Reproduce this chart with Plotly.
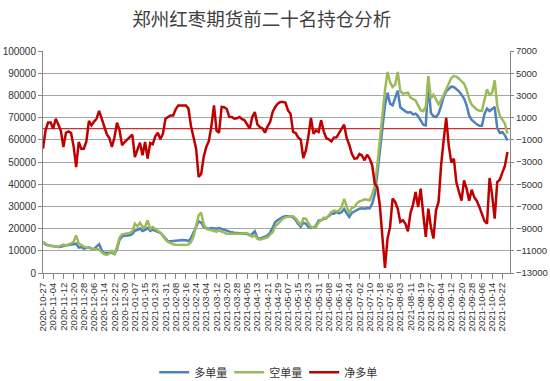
import pandas as pd
import plotly.graph_objects as go

# Chart data (2-day sampling)
start_date = "2020-10-27"
n_points = 183
dates = pd.date_range(start_date, periods=n_points, freq="2D")

long_pos = [  # 多单量
    13960, 12760, 12460, 12310, 12010, 11710, 11710, 11860, 12310, 12460,
    12610, 12910, 13210, 13210, 11410, 11710, 10960, 11110, 11560, 10960,
    10660, 12010, 12910, 10210, 9010, 9160, 9160, 9160, 8560, 10810,
    15020, 16370, 16820, 16970, 16970, 17570, 19070, 19370, 20120, 18920,
    19370, 20270, 18920, 19520, 19070, 18770, 18020, 16820, 15320, 14260,
    14260, 14410, 14560, 14710, 14710, 14860, 14710, 14410, 15770, 18170,
    21320, 23270, 22670, 20720, 20270, 19970, 20270, 20120, 19970, 20270,
    19820, 19520, 19070, 18470, 18320, 18170, 18020, 18020, 18020, 17870,
    17570, 16970, 17570, 18770, 15770, 15470, 15770, 16370, 16970, 18170,
    20420, 22970, 23870, 24620, 25220, 25520, 25670, 25520, 25070, 23870,
    22070, 20870, 22670, 22220, 20720, 20270, 20420, 21470, 23570, 23720,
    24320, 24770, 25520, 26730, 26730, 27480, 26880, 27330, 28830, 26880,
    25220, 27030, 27780, 28530, 28980, 29130, 28980, 29280, 29130, 31230,
    35430, 44590, 55250, 67420, 75530, 81230, 76280, 75530, 78830, 82130,
    74620, 73570, 72820, 72220, 72520, 71470, 71770, 70570, 68770, 66820,
    66520, 85730, 72070, 70570, 70270, 71770, 75230, 79280, 81830, 82880,
    83930, 83780, 82880, 81830, 80330, 78530, 75530, 70870, 68920, 67870,
    66970, 66370, 66370, 71620, 74020, 72970, 73720, 74770, 65320, 63060,
    63510, 62010, 59760,
]

short_pos = [  # 空单量
    13960, 13060, 12460, 12160, 12010, 11710, 11860, 12310, 12760, 12460,
    12760, 13360, 14110, 16970, 13360, 12460, 11860, 11560, 11260, 10960,
    10660, 10810, 10510, 9310, 8410, 8260, 8710, 9910, 8710, 11860,
    15910, 17420, 17720, 17720, 18020, 18770, 22220, 21020, 22670, 20870,
    20870, 23720, 19880, 20720, 19820, 19220, 18170, 16670, 15020, 13960,
    13360, 12910, 12760, 12760, 12460, 12460, 12610, 12910, 13960, 16520,
    20720, 25980, 27180, 21770, 19880, 19370, 19220, 18920, 18620, 19070,
    18770, 18170, 17720, 17720, 17570, 17420, 17420, 17720, 17720, 18020,
    17870, 17270, 16370, 16970, 15470, 15020, 15470, 15770, 16070, 17270,
    18320, 21020, 22220, 23270, 24470, 25070, 25370, 25520, 25520, 24620,
    23040, 21470, 24620, 24470, 22520, 20720, 20420, 20720, 22670, 23870,
    24920, 24470, 26120, 27480, 28080, 27780, 28080, 29730, 33330, 29730,
    26730, 29280, 29730, 31380, 32280, 32580, 33180, 33030, 32730, 35430,
    39190, 48500, 59760, 71470, 82280, 90540, 86030, 83780, 84830, 90540,
    82000, 80780, 81080, 81230, 78980, 78500, 77780, 75530, 73270, 72970,
    74770, 88740, 78530, 80330, 78080, 75980, 77780, 80330, 83480, 85880,
    87840, 88740, 88440, 87540, 86490, 85280, 82580, 78380, 75830, 74620,
    73570, 73120, 73120, 78080, 82730, 80330, 81080, 86790, 75330, 70820,
    68770, 67270, 62760,
]

net_long = [  # 净多单
    -1800, -150, 550, 550, 0, 900, 390, -200, -1650, -360,
    -240, -390, -1590, -3450, -1200, -1800, -1800, -1140, 700, 300,
    640, 900, 1600, 900, 370, -500, -840, -1650, -800, 540,
    -150, -1500, -1200, -960, -750, -540, -2550, -1860, -1260, -2400,
    -1200, -2700, -1290, -1400, -690, -360, -960, -450, 900, 1050,
    1200, 1200, 1750, 2100, 2100, 2100, 2100, 1810, 220, -780,
    -1800, -4350, -4050, -2490, -1650, -1110, 240, 2100, -180, -360,
    1960, 1930, 1780, 1060, 1060, 900, 940, 1060, 850, 760,
    310, 0, 1060, 1500, 390, 150, 30, -360, 220, 600,
    1500, 1960, 2260, 2410, 2410, 2350, 1650, 1350, -290, -390,
    -780, -990, -2640, -1950, -690, 970, -450, -150, -300, 760,
    -240, -840, -960, -1140, -800, -780, -390, 30, 360, -840,
    -1440, -2250, -2700, -2670, -2280, -2400, -2850, -2340, -2700, -3300,
    -4950, -5250, -6900, -9740, -12550, -9900, -8860, -6300, -6600, -7200,
    -8400, -8250, -8550, -9250, -7600, -6840, -5700, -7050, -5400, -7700,
    -9750, -7200, -8850, -9900, -7350, -6600, -3300, -1040, 970, -1500,
    -3050, -2700, -4850, -5700, -6480, -4650, -5400, -6480, -5500, -6180,
    -6510, -7050, -7650, -8310, -8550, -4440, -6000, -8100, -4800, -4600,
    -3960, -3350, -2100,
]

series_names = ["多单量", "空单量", "净多单"]
title_text = "郑州红枣期货前二十名持仓分析"

BLUE = "#4F81BD"
GREEN = "#9BBB59"
RED = "#C00000"
AXIS = "#868686"
GRID = "#a6a6a6"
TXT = "#333333"
NUM_FONT = "Liberation Sans, Arial, sans-serif"
CJK_FONT = "Noto Sans CJK SC, sans-serif"

fig = go.Figure()
fig.add_trace(go.Scatter(x=dates, y=long_pos, name=series_names[0], mode="lines",
                         line=dict(color=BLUE, width=2.5)))
fig.add_trace(go.Scatter(x=dates, y=short_pos, name=series_names[1], mode="lines",
                         line=dict(color=GREEN, width=2.5)))
fig.add_trace(go.Scatter(x=dates, y=net_long, name=series_names[2], mode="lines",
                         line=dict(color=RED, width=2.5), yaxis="y2"))

fig.add_shape(type="line", xref="paper", x0=0, x1=1, yref="y2", y0=0, y1=0,
              line=dict(color=RED, width=1), layer="below")

fig.update_layout(
    width=550, height=381,
    margin=dict(l=43, r=40, t=51, b=108, autoexpand=False),
    paper_bgcolor="white", plot_bgcolor="white",
    title=dict(text=title_text, xref="container", x=0.476, xanchor="center",
               yref="container", y=1 - 20 / 381, yanchor="middle",
               font=dict(family=CJK_FONT, size=18.5, color="#404040")),
    showlegend=True,
    legend=dict(orientation="h", x=0.479, xanchor="center", y=-0.447, yanchor="middle",
                font=dict(family=CJK_FONT, size=11, color=TXT),
                entrywidth=30, entrywidthmode="pixels"),
    xaxis=dict(type="date", range=[start_date, "2021-10-28"],
               tick0=start_date, dtick=8 * 86400000, tickformat="%Y-%m-%d",
               tickangle=-90, ticks="outside", ticklen=5, tickcolor=AXIS,
               showline=True, linecolor=AXIS, linewidth=1, showgrid=False,
               zeroline=False, automargin=False,
               tickfont=dict(family=NUM_FONT, size=9.5, color=TXT)),
    yaxis=dict(range=[0, 100000], dtick=10000, tick0=0, tickformat="d",
               showgrid=True, gridcolor=GRID, gridwidth=1,
               showline=True, linecolor=AXIS, ticks="outside", ticklen=4,
               tickcolor=AXIS, zeroline=False, automargin=False,
               tickfont=dict(family=NUM_FONT, size=10, color=TXT)),
    yaxis2=dict(range=[-13000, 7000], dtick=2000, tick0=-13000, tickformat="d",
                overlaying="y", side="right", showgrid=False,
                showline=True, linecolor=AXIS, ticks="outside", ticklen=3,
                tickcolor=AXIS, zeroline=False, automargin=False,
                tickfont=dict(family=NUM_FONT, size=9.5, color=TXT)),
)

fig.write_html("out.html", config={"displayModeBar": False},
               post_script="document.body.style.margin='0';")
